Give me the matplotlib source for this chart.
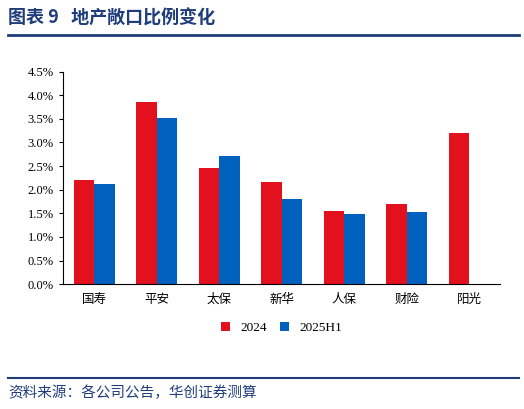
import matplotlib.pyplot as plt
import numpy as np
from matplotlib.ticker import FuncFormatter
from matplotlib.lines import Line2D

plt.rcParams['font.family'] = ['Noto Sans CJK SC', 'DejaVu Sans']

companies = ['国寿', '平安', '太保', '新华', '人保', '财险', '阳光']
vals_2024 = [2.20, 3.85, 2.47, 2.16, 1.55, 1.70, 3.20]
vals_2025h1 = [2.12, 3.52, 2.72, 1.80, 1.48, 1.52, np.nan]

red = '#E3101E'
blue = '#0060BE'
navy = '#1F3D7A'

fig = plt.figure(figsize=(5.24, 4.09), dpi=100)
fig.text(0.015, 0.955, '图表 9   地产敞口比例变化', fontsize=13, fontweight='bold',
         color=navy, va='center')
fig.add_artist(Line2D([0.015, 0.99], [0.915, 0.915], color=navy, lw=2))
fig.add_artist(Line2D([0.015, 0.99], [0.077, 0.077], color=navy, lw=1.5))
fig.text(0.015, 0.04, '资料来源：各公司公告，华创证券测算', fontsize=10.5,
         style='italic', color=navy, va='center')

ax = fig.add_axes([0.12, 0.305, 0.835, 0.52])
x = np.arange(len(companies))
w = 0.33
ax.bar(x - w / 2, vals_2024, w, color=red, label='2024')
ax.bar(x + w / 2, vals_2025h1, w, color=blue, label='2025H1')
ax.set_xlim(-0.5, len(companies) - 0.5)
ax.set_ylim(0, 4.5)
ax.set_yticks(np.arange(0, 4.51, 0.5))
ax.yaxis.set_major_formatter(FuncFormatter(lambda v, p: f'{v:.1f}%'))
ax.set_xticks(x)
ax.set_xticklabels(companies)
ax.tick_params(labelsize=9, length=3)
ax.tick_params(axis='x', length=0, pad=6)
for lbl in ax.get_yticklabels():
    lbl.set_family('Liberation Serif')
for s in ['top', 'right']:
    ax.spines[s].set_visible(False)
ax.legend(loc='upper center', bbox_to_anchor=(0.5, -0.12), ncol=2, frameon=False,
          fontsize=9, handlelength=0.7, handleheight=0.7, columnspacing=1.0,
          prop={'family': 'Liberation Serif', 'size': 9.5})

fig.savefig('out.png', dpi=100)
